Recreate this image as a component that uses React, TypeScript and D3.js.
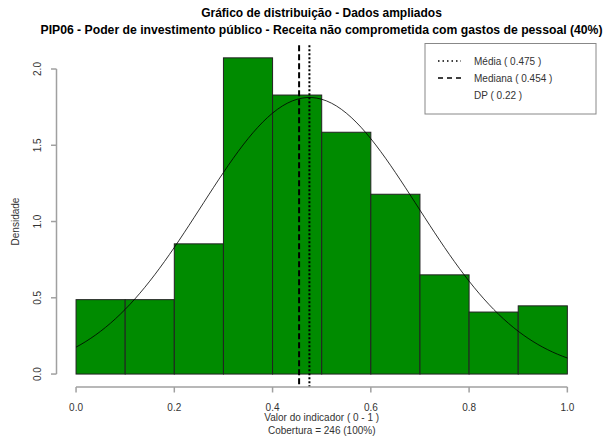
import React from "react";
import * as d3 from "d3";

const breaks = [0, 0.1, 0.2, 0.3, 0.4, 0.5, 0.6, 0.7, 0.8, 0.9, 1.0];
const counts = [12, 12, 21, 51, 45, 39, 29, 16, 10, 11];
const total = 246;
const meanValue = 0.475;
const medianValue = 0.454;
const sdValue = 0.22;
const xTicks = [0, 0.2, 0.4, 0.6, 0.8, 1.0];
const yTicks = [0, 0.5, 1.0, 1.5, 2.0];
const titleLines = [
  "Gráfico de distribuição - Dados ampliados",
  "PIP06 - Poder de investimento público - Receita não comprometida com gastos de pessoal (40%)",
];
const legendLabels = ["Média ( 0.475 )", "Mediana ( 0.454 )", "DP ( 0.22 )"];

const W = 605;
const H = 439;
const FONT = "'Liberation Sans', Arial, sans-serif";

export default function App() {
  const densities = counts.map((c, i) => c / (total * (breaks[i + 1] - breaks[i])));
  const maxD = d3.max(densities) as number;
  const x = d3.scaleLinear().domain([-0.04, 1.04]).range([56.4, 587]);
  const yPad = maxD * 0.04;
  const y = d3.scaleLinear().domain([-yPad, maxD + yPad]).range([386.7, 45.2]);
  const yTop = y(maxD + yPad);
  const yBot = y(-yPad);

  const pdf = (v: number) =>
    Math.exp(-((v - meanValue) ** 2) / (2 * sdValue * sdValue)) / (sdValue * Math.sqrt(2 * Math.PI));
  const curvePts = d3.range(0, 101).map((i) => i / 100);
  const line = d3
    .line<number>()
    .x((v) => x(v))
    .y((v) => y(pdf(v)));

  const axisColor = "#a0a0a0";
  const textColor = "#333";

  return (
    <svg width={W} height={H} style={{ position: "absolute", left: 0, top: 0, background: "#fff" }}>
      <rect x={0} y={0} width={W} height={H} fill="#fff" />
      <text x={321.5} y={17} textAnchor="middle" fontFamily={FONT} fontWeight="bold" fontSize={12} fill="#000">
        {titleLines[0]}
      </text>
      <text
        x={321.5}
        y={34}
        textAnchor="middle"
        fontFamily={FONT}
        fontWeight="bold"
        fontSize={12}
        fill="#000"
        textLength={562}
        lengthAdjust="spacingAndGlyphs"
      >
        {titleLines[1]}
      </text>

      {densities.map((d, i) => (
        <rect
          key={i}
          x={x(breaks[i])}
          y={y(d)}
          width={x(breaks[i + 1]) - x(breaks[i])}
          height={y(0) - y(d)}
          fill="#008B00"
          stroke="#222"
          strokeWidth={1}
        />
      ))}

      <path d={line(curvePts) || ""} fill="none" stroke="#000" strokeWidth={0.8} />

      <line x1={x(medianValue)} x2={x(medianValue)} y1={yTop} y2={yBot} stroke="#000" strokeWidth={2} strokeDasharray="6,3" />
      <line x1={x(meanValue)} x2={x(meanValue)} y1={yTop} y2={yBot} stroke="#000" strokeWidth={2} strokeDasharray="2,2" />

      {/* y axis */}
      <line x1={56.5} x2={56.5} y1={y(0)} y2={y(2)} stroke={axisColor} strokeWidth={1.5} />
      {yTicks.map((t) => (
        <g key={t}>
          <line x1={51} x2={56.5} y1={y(t)} y2={y(t)} stroke={axisColor} strokeWidth={1.5} />
          <text
            transform={`translate(41,${y(t)}) rotate(-90)`}
            textAnchor="middle"
            fontFamily={FONT}
            fontSize={10}
            fill={textColor}
          >
            {t.toFixed(1)}
          </text>
        </g>
      ))}
      <text
        transform={`translate(19,${(y(0) + y(2)) / 2}) rotate(-90)`}
        textAnchor="middle"
        fontFamily={FONT}
        fontSize={10}
        fill={textColor}
      >
        Densidade
      </text>

      {/* x axis */}
      <line x1={x(0)} x2={x(1)} y1={387} y2={387} stroke={axisColor} strokeWidth={1.5} />
      {xTicks.map((t) => (
        <g key={t}>
          <line x1={x(t)} x2={x(t)} y1={387} y2={392.5} stroke={axisColor} strokeWidth={1.5} />
          <text x={x(t)} y={411} textAnchor="middle" fontFamily={FONT} fontSize={10} fill={textColor}>
            {t.toFixed(1)}
          </text>
        </g>
      ))}
      <text x={(x(0) + x(1)) / 2} y={421} textAnchor="middle" fontFamily={FONT} fontSize={10} fill={textColor}>
        Valor do indicador ( 0 - 1 )
      </text>
      <text x={(x(0) + x(1)) / 2} y={434} textAnchor="middle" fontFamily={FONT} fontSize={10} fill={textColor}>
        Cobertura = {total} (100%)
      </text>

      {/* legend */}
      <rect x={425} y={43.5} width={171} height={70.5} fill="#fff" stroke="#888" strokeWidth={1} />
      <line x1={438} x2={461} y1={61} y2={61} stroke="#000" strokeWidth={1.5} strokeDasharray="1.5,3" />
      <line x1={438} x2={461} y1={78} y2={78} stroke="#000" strokeWidth={1.5} strokeDasharray="5,4" />
      {legendLabels.map((l, i) => (
        <text key={i} x={474} y={64.5 + i * 17} fontFamily={FONT} fontSize={10} fill={textColor}>
          {l}
        </text>
      ))}
    </svg>
  );
}
